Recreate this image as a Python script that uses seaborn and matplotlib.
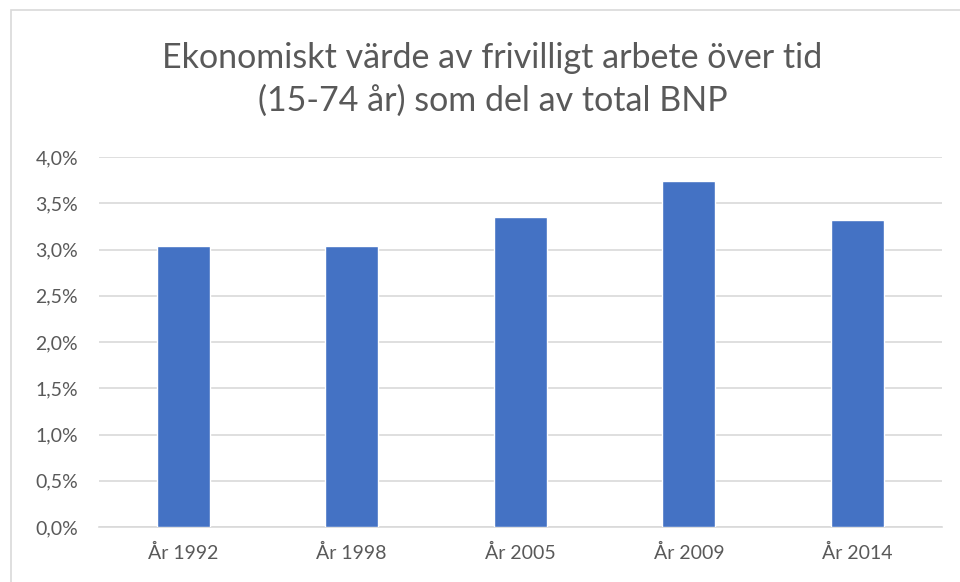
import matplotlib
matplotlib.use("Agg")
import matplotlib.pyplot as plt
import seaborn as sns
import pandas as pd
from matplotlib.patches import Rectangle
from matplotlib.ticker import FuncFormatter

# Data
years = ["År 1992", "År 1998", "År 2005", "År 2009", "År 2014"]
share = [3.04, 3.04, 3.35, 3.74, 3.32]

df = pd.DataFrame({"year": years, "share": share})

sns.set_style("white")
plt.rcParams["font.family"] = ["Lato", "DejaVu Sans"]

fig = plt.figure(figsize=(9.6, 5.82), dpi=100)
ax = fig.add_axes([0.103, 0.0945, 0.878, 0.6355])

sns.barplot(data=df, x="year", y="share", color="#4472C4", saturation=1,
            width=0.315, ax=ax, zorder=3)

ax.set_ylim(0, 4.0)
ax.set_yticks([i * 0.5 for i in range(9)])
ax.yaxis.set_major_formatter(FuncFormatter(lambda v, p: f"{v:.1f}".replace(".", ",") + "%"))
ax.grid(axis="y", color="#d9d9d9", linewidth=1.2, zorder=0)
ax.set_xlabel("")
ax.set_ylabel("")

for side in ["top", "right", "left"]:
    ax.spines[side].set_visible(False)
ax.spines["bottom"].set_color("#d9d9d9")
ax.spines["bottom"].set_linewidth(1.2)

ax.tick_params(axis="both", length=0, labelsize=14, colors="#595959")
ax.tick_params(axis="y", pad=15)
ax.tick_params(axis="x", pad=12)

fig.text(0.513, 0.863, "Ekonomiskt värde av frivilligt arbete över tid\n(15-74 år) som del av total BNP",
         ha="center", va="center", fontsize=24.5, color="#595959", linespacing=1.4)

# Chart frame
fig.patches.append(Rectangle((0.011, -0.01), 1.0, 0.993, transform=fig.transFigure,
                             fill=False, edgecolor="#d9d9d9", linewidth=1.2))

fig.savefig("out.png", dpi=100)
